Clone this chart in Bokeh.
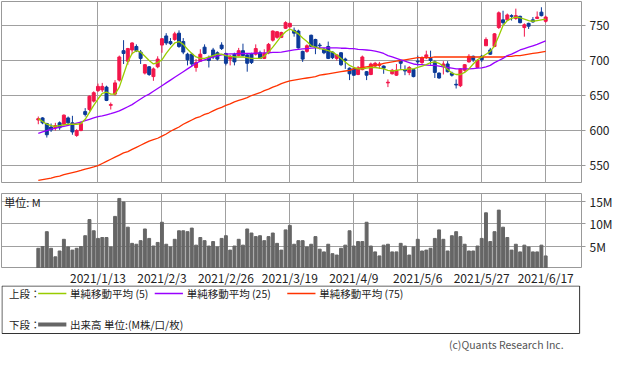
from bokeh.plotting import figure
from bokeh.layouts import column
from bokeh.models import Range1d, FixedTicker, ColumnDataSource
from bokeh.core.properties import value
from bokeh.embed import file_html
from bokeh.resources import INLINE

# ---------------- data ----------------
opens = [615,618,610,605,604,611,609,618,611,593, 600,627,630,642,657,658,662,636,652,672,
         714,699,715,720,712,682,691,677,691,722, 735,727,730,739,727,709,709,690,699,719,
         704,715,711,722,710,702,709,707,714,708, 710,709,711,703,711,729,733,733,746,748,
         743,742,713,713,736,730,722,716,720,712, 703,711,702,689,688,680,687,684,680,692,
         693,692,668,681,679,700,687,683,687,699, 697,704,703,698,682,692,695,682,666,664,
         686,698,706,690,706,721,715,720,747,758, 758,764,760,763,747,753,758,760,769,756]
highs = [620,619,611,610,611,613,623,620,621,602, 613,632,650,656,667,668,664,640,672,707,
         729,718,726,723,715,695,692,690,706,732, 739,732,741,743,732,711,711,702,716,723,
         707,718,713,726,711,708,711,718,724,709, 711,723,714,716,725,743,742,741,756,754,
         747,744,714,723,737,731,725,718,727,713, 709,712,704,690,689,692,707,685,697,698,
         698,693,673,688,695,701,693,692,688,707, 706,714,714,700,683,699,699,684,673,689,
         695,709,707,702,708,733,718,739,770,771, 767,766,774,764,753,754,762,770,776,764]
lows = [609,609,590,598,600,601,607,609,594,591, 599,620,628,640,655,655,642,630,650,670,
        695,694,709,712,695,680,678,671,689,711, 722,722,728,718,709,693,692,684,698,709,
        690,702,700,715,693,693,693,706,706,684, 695,707,702,702,709,727,731,732,745,747,
        734,717,698,711,720,709,716,709,702,702, 700,692,688,672,678,679,686,672,679,690,
        688,681,662,680,678,688,679,679,676,693, 695,702,694,675,674,680,683,677,660,662,
        684,697,698,689,698,721,708,719,745,751, 757,757,758,753,734,745,754,759,763,754]
closes = [617,611,594,601,607,604,622,611,598,600, 610,623,649,654,663,663,643,637,668,705,
          710,717,725,714,703,694,680,688,702,731, 725,724,738,720,712,701,695,697,709,710,
          700,705,702,717,696,706,698,714,707,696, 697,717,703,710,723,742,741,740,754,753,
          739,718,702,721,720,719,721,711,703,704, 708,694,700,681,679,689,705,679,695,696,
          695,689,669,686,686,696,685,690,677,698, 704,708,700,683,675,695,684,679,665,688,
          694,706,701,700,701,730,709,738,768,754, 765,763,764,754,751,749,755,762,764,762]
ma5 = [617,613,609,607,606,607,608,609,609,609, 610,616,626,636,645,653,655,652,652,662,
       680,698,710,714,712,706,700,695,697,701, 710,718,725,727,723,716,710,705,703,703,
       705,707,709,709,707,706,705,705,705,704, 703,703,703,706,712,719,727,735,741,745,
       742,738,732,727,721,719,717,716,714,712, 708,703,698,693,690,688,688,689,690,690,
       689,688,686,685,686,687,687,688,688,690, 692,694,697,698,696,692,687,682,680,680,
       683,688,695,701,705,709,713,721,735,750, 757,760,762,761,759,757,756,757,758,759]
ma25 = [596,598,600,602,603,605,606,607.5,609,610.5, 612,614,616,618,620,621,622.5,624,626,628,
        631,634,637,641,645,649,652,656,660,664, 668,672,676,680,684,688,692,696,699,701,
        703,705,706.5,708,709,709.5,709.5,710,710,710, 710,710.5,710.5,711,711,711.5,711.5,712,713,714,
        715,716,716.5,717,717.5,718,718,718,718,718, 718,717.5,717.5,717,717,716,715.5,715,714.5,713.5,
        712,710,707,705,703,701,699,697,695,694, 694,693.5,693,693,692,691,690,689,688,688,
        688,688,688.5,689,689.5,691,693,697,700,703, 707,709,712,715,717,719,721,723,725.5,728]
ma75 = [529,530,531,532,534,535,537,538.5,540,541.5, 543,545,546.5,548,550,553,556,559,562,565,
        568,570,573,576,579,582,585,587,589,592, 595,599,602,605,609,612,615,618,620,623,
        625,628,631,633,636,638,641,643,645,647, 650,652,654,657,659,662,664,667,669,671,
        672,673,674,675,676,677,679,680,681,682, 683,684,685,686,688,689,690,691,692,693,
        694,696,697,698,699,700,701,702,703,704, 704,704,704,705,705,705,705,705,705,705,
        705,705,705,705,705,705,705,705,705,705, 706,706,707,707,708,709,710,711,712,713]
volume = [4.5,4.9,8.2,4.5,2.6,3.9,6.5,4.8,4.1,4.5, 4.9,7.3,10.9,8.4,6.7,6.9,6.9,4.8,11.6,15.6,
          14.8,9.2,5.6,5.4,6.2,8.8,6.7,5.0,5.8,10.3, 5.4,4.8,6.5,8.4,8.4,8.2,9.0,5.2,6.9,6.2,
          5.0,6.0,4.8,6.7,7.3,4.1,5.0,6.5,5.2,8.8, 7.9,7.1,7.3,6.2,7.1,7.9,5.6,4.1,8.6,9.6,
          5.4,6.2,6.2,4.8,5.4,7.1,4.3,3.7,5.4,3.3, 3.0,4.5,5.2,8.4,5.0,6.0,6.0,10.3,5.0,3.7,
          2.8,5.2,5.4,3.7,3.7,5.6,5.0,3.0,4.8,6.5, 3.9,4.1,4.5,6.7,8.6,6.5,3.9,7.3,8.2,7.1,
          5.4,3.9,3.9,5.0,6.7,12.4,6.0,8.2,13.0,9.2, 6.9,4.1,5.4,3.7,5.2,4.8,3.7,3.7,5.2,2.8]
tick_idx = [14, 29, 44, 59, 74, 89, 104, 119]
tick_labels = ["2021/1/13", "2021/2/3", "2021/2/26", "2021/3/19",
               "2021/4/9", "2021/5/6", "2021/5/27", "2021/6/17"]
price_ticks = [550, 600, 650, 700, 750]
vol_ticks = [5, 10, 15]
vol_tick_labels = ["5M", "10M", "15M"]
legend_upper = ["単純移動平均 (5)", "単純移動平均 (25)", "単純移動平均 (75)"]
legend_lower = "出来高 単位:(M株/口/枚)"

# ---------------- styling ----------------
FONT = "Noto Sans CJK JP"
W = 617
RED = "#F2164B"
BLUE = "#0B3A98"
C5, C25, C75 = "#99CC00", "#9900FF", "#FF3300"
GRID = "#A0A0A0"
TXT = "#222222"

n = len(closes)
xs = list(range(n))
cols = [RED if c >= o else BLUE for o, c in zip(opens, closes)]
src = ColumnDataSource(dict(
    x=xs, o=opens, h=highs, l=lows, c=closes,
    top=[max(o, c) for o, c in zip(opens, closes)],
    bot=[min(o, c) for o, c in zip(opens, closes)],
    col=cols, ma5=ma5, ma25=ma25, ma75=ma75, vol=volume))

xr = Range1d(-8.63, 127.4)


def style_common(p):
    p.outline_line_color = "#999999"
    p.outline_line_width = 1
    p.background_fill_color = "white"
    p.border_fill_color = "white"
    p.xgrid.ticker = FixedTicker(ticks=tick_idx)
    p.xgrid.grid_line_color = GRID
    p.ygrid.grid_line_color = GRID
    ax = p.yaxis[0]
    ax.axis_line_color = None
    ax.major_tick_line_color = "#999999"
    ax.major_tick_out = 4
    ax.major_tick_in = 0
    ax.minor_tick_line_color = None
    ax.major_label_text_font = FONT
    ax.major_label_text_font_size = "12px"
    ax.major_label_text_color = TXT
    ax.major_label_standoff = 4


# ---------------- price panel ----------------
p1 = figure(width=W, height=183, x_range=xr, y_range=Range1d(524.4, 784.2),
            output_backend="svg", toolbar_location=None,
            x_axis_location=None, y_axis_location="right",
            min_border_left=1, min_border_right=36, min_border_top=1, min_border_bottom=0)
style_common(p1)
p1.yaxis.ticker = FixedTicker(ticks=price_ticks)
p1.ygrid.ticker = FixedTicker(ticks=price_ticks)
p1.segment(x0="x", y0="l", x1="x", y1="h", color="col", line_width=1, source=src)
p1.vbar(x="x", width=0.7, top="top", bottom="bot", fill_color="col", line_color="col",
        line_width=1, source=src)
p1.line("x", "ma75", color=C75, line_width=1.3, source=src)
p1.line("x", "ma25", color=C25, line_width=1.3, source=src)
p1.line("x", "ma5", color=C5, line_width=1.3, source=src)

# ---------------- volume panel ----------------
p2 = figure(width=W, height=85, x_range=xr, y_range=Range1d(0, 16.7),
            output_backend="svg", toolbar_location=None,
            x_axis_location=None, y_axis_location="right",
            min_border_left=1, min_border_right=36, min_border_top=10, min_border_bottom=0)
style_common(p2)
p2.yaxis.ticker = FixedTicker(ticks=vol_ticks)
p2.ygrid.ticker = FixedTicker(ticks=vol_ticks)
p2.yaxis.major_label_overrides = {t: s for t, s in zip(vol_ticks, vol_tick_labels)}
p2.vbar(x="x", top="vol", width=0.68, color="#666666", source=src)
p2.text(x=[-8.0], y=[14.9], text=["単位: M"], text_font=value(FONT),
        text_font_size="11px", text_color=TXT, text_baseline="middle", text_align="left")

# ---------------- date label strip (shares the x scale) ----------------
p3 = figure(width=W, height=17, x_range=xr, y_range=Range1d(0, 1),
            output_backend="svg", toolbar_location=None,
            x_axis_location=None, y_axis_location=None,
            min_border_left=1, min_border_right=36, min_border_top=0, min_border_bottom=0)
p3.outline_line_color = None
p3.xgrid.visible = False
p3.ygrid.visible = False
p3.text(x=tick_idx, y=[0.5] * len(tick_idx), text=tick_labels, text_font=value(FONT),
        text_font_size="12px", text_color=TXT, text_baseline="middle", text_align="center")

# ---------------- legend panel ----------------
LH = 69
p4 = figure(width=W, height=LH, x_range=Range1d(0, W), y_range=Range1d(LH, 0),
            output_backend="svg", toolbar_location=None,
            x_axis_location=None, y_axis_location=None, min_border=0)
p4.outline_line_color = None
p4.xgrid.visible = False
p4.ygrid.visible = False
p4.quad(left=[0.5], right=[615], top=[0.5], bottom=[48], fill_color=None,
        line_color="#333333", line_width=1)
for x0, c in ((39, C5), (163, C25), (304, C75)):
    p4.segment(x0=[x0], y0=[8], x1=[x0 + 30], y1=[8], line_color=c, line_width=1.3)
p4.segment(x0=[39], y0=[39], x1=[69], y1=[39], line_color="#666666", line_width=4)
p4.text(x=[8, 73, 197, 338, 8, 73], y=[8, 8, 8, 8, 39, 39],
        text=["上段："] + legend_upper + ["下段：", legend_lower],
        text_font=value(FONT), text_font_size="10.5px", text_color=TXT,
        text_baseline="middle", text_align="left")
p4.text(x=[598], y=[59], text=["(c)Quants Research Inc."], text_font=value(FONT),
        text_font_size="10.5px", text_color="#555555", text_baseline="middle",
        text_align="right")

layout = column(p1, p2, p3, p4, spacing=0)
open("out.html", "w").write(file_html(layout, INLINE))
